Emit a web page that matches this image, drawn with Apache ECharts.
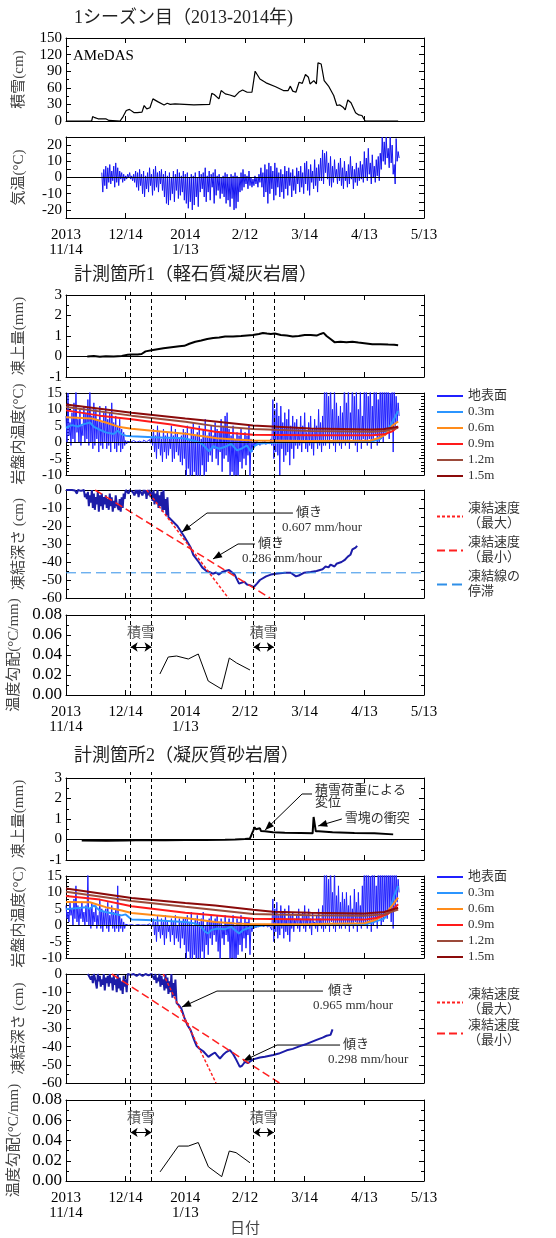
<!DOCTYPE html>
<html>
<head>
<meta charset="utf-8">
<script src="https://cdn.jsdelivr.net/npm/echarts@6.0.0/dist/echarts.min.js"></script>
<style>
html, body { margin: 0; padding: 0; background: #fff; }
#chart { width: 556px; height: 1238px; }
</style>
</head>
<body>
<div id="chart"></div>
<script>
const SERIF = "'Liberation Serif','Noto Sans CJK JP',serif";

// x軸は 2013/11/14 からの日数
const xTicks = ['2013\n11/14', '12/14', '2014\n1/13', '2/12', '3/14', '4/13', '5/13'];
const dashDays = [32.5, 43, 94.3, 104.5];          // 積雪期間の境界
const snowPeriods = [[32.5, 43], [94.3, 104.5]];

// 積雪 (AMeDAS)
const snowDay = [0, 12.9, 13.4, 14.5, 16.1, 18.5, 20.0, 21.6, 27.2, 28.7, 30.3, 31.9, 34.3, 35.8, 36.6, 38.2, 39.3, 40.6, 42.2, 43.7,
  46.1, 49.3, 50.9, 52.4, 54.8, 59.5, 64.3, 72.2, 73.3, 74.5, 76.9, 78.0, 80.1, 82.4, 84.8, 87.2, 88.8, 91.1, 93.5, 95.1,
  97.5, 100.6, 105.4, 109.3, 111.7, 112.8, 114.0, 115.6, 117.2, 118.8, 120.4, 121.9, 122.7, 124.6, 125.9, 126.7, 128.3, 129.8, 132.2, 134.6,
  136.2, 137.7, 139.3, 140.4, 141.7, 143.3, 145.6, 147.2, 148.8, 150.4, 167];
const snowCm = [0, 0, 8, 6, 4, 4, 4, 1, 0, 8, 19, 21, 15, 15, 18, 16, 28, 22, 24, 40,
  35, 29, 32, 30, 31, 30, 29, 30, 50, 48, 40, 55, 49, 47, 44, 53, 56, 52, 52, 90,
  76, 69, 62, 55, 55, 63, 54, 52, 70, 68, 84, 79, 67, 73, 67, 105, 103, 73, 62, 46,
  28, 29, 25, 20, 38, 33, 15, 11, 10, 0, 0];

// 気温 日最高/最低 (18日目から)
const airStart = 18;
const airHi = [3, 5, 7, 6, 8, 4, 7, 9, 6, 4,  3, 2, 1, 2, 3, 1, 2, 4, 3, 5,  2, 4, 1, 3, 6, 2, 5, 7, 3, 4,
  5, 2, 4, 1, 3, 0, 4, 2, 5, 3,  1, 4, 2, 3, 0, 2, 1, 3, 0, 4,  2, 3, 6, 1, 4, 2, 3, 5, 1, 2,
  0, 1, 3, 2, 0, 2, 1, 3, 1, 0,  3, 5, 2, 1, 4, 0, -1, 1, 0, 2,  6, 3, 8, 5, 9, 7, 4, 9, 6, 3,
  5, 2, 7, 4, 6, 3, 5, 1, 6, 4,  7, 3, 9, 10, 5, 8, 4, 11, 6, 8,  12, 17, 15, 16, 9, 13, 7, 11, 5, 9,
  12, 6, 10, 4, 8, 13, 7, 5, 9, 6,  10, 8, 16, 12, 18, 9, 14, 7, 11, 13,  15, 25, 22, 25, 18, 25, 20, 8, 24, 16];
const airLo = [-9, -5, -7, -3, -4, -2, -6, -3, -5, -1,  -3, -2, -1, 0, -1, -2, -3, -6, -8, -5,  -10, -12, -7, -9, -5, -11, -8, -6, -9, -4,
  -8, -12, -16, -17, -14, -10, -15, -8, -13, -11,  -9, -14, -16, -19, -15, -20, -17, -12, -18, -9,  -7, -12, -15, -9, -14, -6, -16, -11, -8, -13,
  -10, -12, -16, -14, -18, -13, -20, -19, -15, -9,  -8, -6, -4, -7, -5, -6, -5, -4, -6, -3,  -6, -12, -9, -16, -10, -7, -14, -11, -6, -12,
  -9, -13, -7, -11, -5, -12, -8, -10, -4, -9,  -6, -10, -4, -8, -11, -3, -7, -5, -9, -2,  -2, -4, 3, -1, -5, -6, -3, 0, -4, -2,
  -5, -7, -2, -6, -4, -1, -7, -3, -5, -2,  -1, -3, 0, -2, 2, -4, 0, -3, 1, -2,  5, 10, 8, 12, 6, 9, 2, -4, 10, 12];

// 計測箇所1
const heave1Day = [10.7, 14, 17, 20, 24, 28, 31, 33, 36, 38, 40, 43, 46, 49, 53, 57, 59.5, 62, 65, 68, 71, 74, 77, 80, 84, 88, 91, 94, 97, 99,
  101, 103, 105, 108, 111, 114, 117, 120, 123, 126, 128, 129.5, 131, 133, 135, 138, 141, 144, 147, 150, 154, 158, 162, 165, 167];
const heave1Mm = [0, 0.02, -0.01, 0.01, 0, 0.03, 0.08, 0.1, 0.1, 0.12, 0.25, 0.3, 0.35, 0.4, 0.45, 0.5, 0.52, 0.62, 0.72, 0.78, 0.85, 0.9, 0.93, 0.97, 0.98, 1.0, 1.03, 1.05, 1.1, 1.15,
  1.12, 1.1, 1.12, 1.05, 1.02, 0.98, 1.0, 1.05, 1.05, 1.02, 1.1, 1.15, 1.0, 0.85, 0.7, 0.72, 0.7, 0.72, 0.68, 0.65, 0.6, 0.6, 0.58, 0.57, 0.55];

const surf1Hi = [8, 15, 6, 9, 12, 16, 7, 10, 5, 11,  9, 13, 16, 8, 12, 10, 7, 11, 6, 9,  11, 7, 9, 12, 6, 8, 5, 7, 4, 3,
  0.5, 0.3, 0.8, 0.6, 0.5, 0.4, 0.5, 0.3, 0.4, 0.6, 0.5, 0.4, 0.8, 1.5,
  4, 2, 5, 3, 1, 4, 2, 3, 1, 5, 2, 4, 3, 1, 2, 4,  3, 5, 1, 4, 6, 2, 3, 5, 1, 4, 7, 2,  3, 5, 2, 6, 4, 3, 7, 5, 8, 9,
  4, 2, 5, 1, 3, 2, 4, 1, 3, 2, 5, 1,  0, 0.2, 0.3, 0, 0.1, 0.2, 0.3, 0, 0.4, 1,  13, 10, 12, 8, 11, 6, 9, 7, 10, 5, 8, 6,
  7, 4, 8, 5, 9, 3, 6, 8, 4, 7, 5, 10, 6, 8,  18, 20, 14, 19, 10, 17, 12, 8, 11, 9,  20, 12, 18, 9, 20, 14, 17, 10, 16, 8,
  18, 20, 14, 19, 11, 20, 17, 13, 20, 18, 16, 20, 19, 15, 20, 18, 14, 12];
const surf1Lo = [0, 2, -1, 1, 0, 3, 0, -1, 2, 0,  1, -1, 0, -2, -1, 1, -3, -1, -2, 0,  -2, -1, -3, 0, -2, -3, -1, -3, -2, -1,
  -0.5, -0.2, 0, 0.2, 0.1, 0, 0.1, 0, -0.1, 0, 0.1, 0, -0.3, -1,
  -3, -5, -2, -4, -6, -3, -5, -4, -2, -6, -5, -3, -4, -6, -7, -5,  -12, -8, -13, -10, -9, -14, -11, -12, -7, -13, -9, -6,  -4, -6, -2, -5, -7, -3, -9, -5, -4, -6,
  -11, -9, -12, -10, -13, -6, -8, -5, -7, -4, -11, -3,  -1.5, -1, -0.8, -1, -0.6, -0.5, -0.7, -0.4, -0.5, -1,  -5, -3, -4, -10, -2, -6, -4, -3, -7, -2, -5, -1,
  -2, -1, -3, 0, -2, -3, -1, -2, -4, 0, -2, -1, -3, -1,  -1, 0, -2, 1, -1, -3, 0, -1, -2, 0,  -1, 0, -2, 1, 0, -1, -3, 0, -2, 1,
  0, -1, 1, -2, 0, 2, -1, 0, 1, 0, 2, 3, 1, 4, -3, 5, 6, 8];

const t1Day03 = [0, 3, 6, 9, 12, 14, 17, 20, 24, 26, 28, 30, 33, 44, 59, 64, 68, 70, 72, 74, 77, 80, 83, 86, 88, 91, 93, 95, 97, 110, 138, 154, 158, 161, 164, 167];
const t1Val03 = [4.4, 5.2, 4.8, 5.5, 6.0, 4.7, 3.8, 3.0, 2.5, 3.5, 2.4, 2.0, 1.8, 1.5, 1.2, 0.5, -0.3, -1.5, -2.8, -1.2, -2.0, -1.4, -0.5, -2.5, -2.0, -1.0, -3.0, -1.0, -0.4, 0, 0, 0.3, 1.0, 3.0, 6.0, 9.5];
const t1Day06 = [0, 13, 20, 27, 33, 42, 60, 76, 85, 94, 123, 153, 157, 161, 164, 167];
const t1Val06 = [7.6, 7.2, 6.0, 4.6, 4.1, 3.6, 2.6, 1.2, 0.8, 0.5, 0.4, 0.5, 1.2, 2.5, 5.0, 6.3];
const t1Day09 = [0, 17, 33, 52, 75, 94, 123, 154, 160, 164, 167];
const t1Val09 = [9.7, 8.1, 7.0, 5.5, 3.2, 2.3, 2.1, 2.1, 2.4, 3.3, 4.8];
const t1Day12 = [0, 33, 60, 75, 94, 123, 154, 160, 167];
const t1Val12 = [10.7, 8.1, 6.2, 4.9, 4.0, 3.4, 3.2, 3.4, 4.4];
const t1Day15 = [0, 33, 60, 75, 94, 123, 154, 160, 167];
const t1Val15 = [11.5, 9.0, 7.2, 6.3, 5.1, 4.2, 3.9, 4.0, 4.7];

// 凍結深さ: 初期のばらつき (日ごとの上側/下側) と その後の推移
const frz1Hi = [0, 0, 0, 0, 0, 0, 0, 0, 0, 0,  -2, -1, -3, 0, -2, -4, -1, -3, -2, -4,  -3, -5, -2, -4, -6, -3, -7, -5, -4, -2,
  0, 0, 0, 0, 0, 0, 0, 0, 0, 0, 0, 0,  0, -1, 0, -2, 0, -3, -1, 0, -5, -4];
const frz1Lo = [-0.5, 0, -1, 0, -0.3, -2, 0, -0.5, -1, -4,  -5, -9, -7, -10, -11, -8, -12, -9, -11, -8,  -10, -11, -9, -12, -10, -8, -11, -12, -10, -5,
  -1, -2, -0.5, -1, -3, -2, -4, -1, -3, -2, -5, -3,  -4, -6, -8, -7, -10, -9, -12, -11, -14, -15];
const frz1Day = [52, 56, 59.5, 62.7, 64, 66.7, 68.5, 70.6, 72, 73.8, 75.5, 76.9, 78.5, 80, 82, 84.8, 87, 88, 89.6, 91, 92.7, 94.3, 96, 97.5, 100.6, 103, 105.4, 110, 113, 115.6,
  117, 119.6, 123, 126, 129, 130.5, 132, 133, 135, 136, 138.5, 140, 141.7, 143, 144, 145.6, 146.4];
const frz1Cm = [-15, -20, -26, -32, -36, -40, -43, -45, -45.5, -46.5, -45.8, -47, -45.5, -45, -44.5, -47, -52, -51.5, -51, -52.5, -53, -54, -52, -50, -48, -47, -46.5, -46, -46, -48,
  -47.5, -46, -45.5, -45, -44, -42.5, -43, -41.5, -42.5, -41, -40, -39, -37, -36, -33, -32, -31];
const rate1Max = [[40.6, 0], [81.6, -60]];
const rate1Min = [[14.6, 0], [102.6, -60]];
const stallCm = -46;

const grad1Day = [47.2, 51.4, 55.6, 61.5, 66.5, 71.5, 78.2, 82.1, 85.8, 92.5];
const grad1Val = [0.021, 0.038, 0.039, 0.036, 0.041, 0.014, 0.006, 0.037, 0.032, 0.025];

// 計測箇所2
const heave2Day = [7.9, 20, 30, 40, 50, 60, 70, 80, 85, 90, 92.5, 93.5, 94.2, 94.8, 95.5, 96.5, 97.5, 98, 100, 104, 110, 118, 124, 124.5, 125.2, 125.6, 127, 134, 145, 155, 164.5];
const heave2Mm = [-0.05, -0.06, -0.05, -0.03, -0.04, -0.03, -0.02, -0.01, 0, 0.02, 0.05, 0.1, 0.45, 0.6, 0.5, 0.45, 0.55, 0.42, 0.4, 0.35, 0.33, 0.32, 0.3, 1.1, 1.05, 0.4, 0.4, 0.35, 0.32, 0.3, 0.25];

const surf2Hi = [6, 4, 7, 5, 8, 12, 6, 5, 7, 4,  6, 16, 5, 7, 4, 6, 3, 8, 5, 4,  5, 7, 3, 6, 4, 5, 12, 3, 2, 1,
  0.3, 0.5, 0.4, 0.2, 0.3, 0.5, 0.2, 0.4, 0.3, 0.1, 0.3, 0.2, 0.4, 0.6,
  2, 1, 3, 0, 2, 1, 3, 1, 0, 2, 1, 3, 0, 2, 1, 2,  2, 3, 1, 4, 0, 2, 3, 1, 2, 4, 0, 1,  2, 3, 1, 2, 3, 1, 2, 0, 3, 1,
  2, 1, 3, 0, 2, 1, 3, 0, 2, 1, 2, 0,  0, 0.2, 0.1, 0, 0.2, 0.1, 0.3, 0, 0.2, 0.5,  8, 5, 7, 3, 6, 4, 5, 2, 6, 3, 4, 2,
  3, 5, 2, 4, 6, 3, 5, 2, 4, 1, 3, 5, 2, 6,  20, 17, 14, 20, 10, 18, 9, 12, 7, 10,  8, 10, 6, 9, 5, 11, 7, 10, 6, 12,
  20, 18, 20, 15, 20, 19, 12, 20, 18, 20, 16, 20, 19, 20, 18, 20, 17, 14];
const surf2Lo = [2, 1, 3, 0, 2, 1, 0, 2, 1, 0,  1, 0, -1, 0, 1, -1, 0, -1, -2, 0,  -1, -2, 0, -1, -2, -1, -2, -1, -2, -1,
  -0.3, 0, 0.1, 0, -0.1, 0, 0.1, 0, -0.2, 0, 0, -0.1, 0, -0.3,
  -3, -5, -2, -4, -3, -6, -4, -2, -5, -3, -6, -4, -5, -7, -4, -6,  -11, -8, -12, -13, -9, -14, -10, -12, -8, -11, -6, -9,  -4, -6, -3, -5, -8, -11, -4, -6, -3, -5,
  -12, -10, -11, -13, -9, -6, -8, -4, -7, -3, -9, -2,  -1, -0.8, -0.6, -0.5, -0.4, -0.5, -0.3, -0.6, -0.4, -1.5,  -5, -2, -4, -3, -1, -4, -2, -3, -5, -1, -2, 0,
  -1, -2, 0, -1, -2, 0, -1, -3, 0, -1, -2, 0, -1, -2,  -1, 0, -2, 1, -1, -2, 0, -1, -1, 0,  -1, 0, -2, 0, -1, 1, -2, 0, -1, 0,
  0, -1, 1, -2, 0, 1, -1, 2, 0, 1, 3, 2, 4, 1, -1, 5, 7, 10];

const t2Day03 = [0, 5, 10, 12, 14, 17, 20, 24, 28, 29, 30, 33, 44, 60, 65, 68, 70, 71.5, 73, 76, 80, 83, 85, 87, 89, 91, 94, 100, 150, 155, 160, 163, 165, 167];
const t2Val03 = [4.9, 5.2, 5.5, 5.0, 6.0, 4.5, 4.0, 3.5, 3.0, 2.5, 3.3, 1.7, 1.5, 1.0, 0.5, -0.5, -2.0, -2.5, -1.5, -1.0, -1.2, -0.5, -1.5, -2.5, -1.5, -1.0, -0.5, 0, 0.2, 1.0, 2.0, 5.0, 9.0, 12.0];
const t2Day06 = [0, 12, 20, 28, 33, 45, 60, 75, 85, 94, 123, 150, 155, 160, 164, 167];
const t2Val06 = [7.1, 7.0, 5.5, 4.5, 3.7, 3.0, 2.2, 1.0, 0.5, 0.3, 0.4, 0.6, 1.5, 3.0, 6.0, 8.4];
const t2Day09 = [0, 17, 33, 60, 94, 123, 150, 156, 162, 167];
const t2Val09 = [8.9, 7.8, 5.8, 3.8, 2.0, 1.7, 1.7, 2.2, 3.5, 6.4];
const t2Day12 = [0, 33, 60, 94, 123, 150, 160, 167];
const t2Val12 = [10.2, 7.4, 5.6, 3.4, 3.0, 2.9, 3.3, 4.8];
const t2Day15 = [0, 33, 60, 75, 94, 104, 123, 150, 160, 167];
const t2Val15 = [11.2, 8.3, 6.8, 6.0, 4.7, 4.1, 3.8, 3.6, 4.0, 5.3];

const frz2Start = 11;
const frz2Hi = [0, 0, -1, 0, -2, 0, -1, -3, 0, -2,  -1, 0, -2, -1, -3, 0, -2, -4, -1, -3,
  0, 0, 0, 0, 0, 0, 0, 0, 0, 0, 0, 0, 0,  -1, 0, -2, 0, -1, -3, 0, -2, -4, 0, -5, -3];
const frz2Lo = [-1, -3, -5, -2, -8, -4, -7, -6, -9, -5,  -7, -5, -9, -6, -10, -8, -9, -11, -7, -10,
  -1, -0.5, 0, -0.5, -1, 0, -0.5, -1, 0, -0.3, -0.8, 0, -1,  -3, -5, -4, -7, -6, -9, -8, -11, -10, -13, -12, -14];
const frz2Day = [55.6, 57, 58, 59.5, 61, 62.7, 64.3, 65.7, 67, 69, 71.6, 73, 74.9, 76, 77.4, 79, 80.5, 82.4, 84, 85.5, 87.4, 88.5, 90, 91.5, 94.1,
  97.5, 100, 104.2, 107, 111, 114, 117.6, 121, 126, 129, 131, 133, 133.6, 134];
const frz2Cm = [-16, -17.5, -19, -24, -28, -31, -36, -39.7, -41, -42.5, -45.6, -44.5, -43.2, -44.8, -46.5, -44.5, -43, -41.9, -44, -47, -51.1, -50.5, -48.3, -49, -47,
  -46, -45.5, -44.6, -43.8, -42, -41.2, -39.7, -38.5, -36.3, -35, -34, -33.5, -33, -30.5];
const rate2Max = [[48.9, 0], [75.4, -60]];
const rate2Min = [[23, 0], [107.3, -60]];

const grad2Day = [47.3, 56.5, 61.5, 66.5, 71.6, 78.3, 82.1, 85.5, 92.5];
const grad2Val = [0.009, 0.0345, 0.0345, 0.038, 0.014, 0.0043, 0.0296, 0.028, 0.018];

// ---------------------------------------------------------------
const xy = (days, vals) => days.map((d, i) => [d, vals[i]]);
function pairs(start, hi, lo) {   // 1日ごとに 上側 → 下側
  const out = [];
  hi.forEach((h, i) => { out.push([start + i, h]); out.push([start + i + 0.5, lo[i]]); });
  return out;
}

const panels = [
  { top: 38,   h: 83,  min: 0,   max: 150,  step: 30,   minor: 2, name: '積雪(cm)' },
  { top: 137,  h: 81,  min: -25, max: 25,   step: 5,    minor: 0, name: '気温(°C)', every: 10, xlab: true },
  { top: 295,  h: 82,  min: -1,  max: 3,    step: 1,    minor: 2, name: '凍上量(mm)' },
  { top: 393,  h: 82,  min: -10, max: 15,   step: 5,    minor: 5, name: '岩盤内温度(°C)' },
  { top: 490,  h: 108, min: -60, max: 0,    step: 10,   minor: 2, name: '凍結深さ (cm)' },
  { top: 615,  h: 80,  min: 0,   max: 0.08, step: 0.02, minor: 2, name: '温度勾配(°C/mm)', dec: 2, xlab: true },
  { top: 778,  h: 82,  min: -1,  max: 3,    step: 1,    minor: 2, name: '凍上量(mm)' },
  { top: 876,  h: 82,  min: -10, max: 15,   step: 5,    minor: 5, name: '岩盤内温度(°C)' },
  { top: 974,  h: 109, min: -60, max: 0,    step: 10,   minor: 2, name: '凍結深さ (cm)' },
  { top: 1100, h: 81,  min: 0,   max: 0.08, step: 0.02, minor: 2, name: '温度勾配(°C/mm)', dec: 2, xlab: true, xname: '日付' }
];

const grid = [], xAxis = [], yAxis = [];
const black = { color: '#000', width: 1 };
panels.forEach((p, g) => {
  grid.push({ left: 66, right: 132, top: p.top, height: p.h, outerBoundsMode: 'none' });
  xAxis.push({
    gridIndex: g, type: 'value', min: 0, max: 180, interval: 30, position: 'bottom',
    axisLine: { onZero: false, lineStyle: black },
    axisTick: { inside: true, length: 5, lineStyle: black },
    axisLabel: {
      show: !!p.xlab, margin: 10, fontSize: 15, lineHeight: 15, color: '#000', fontFamily: SERIF,
      showMinLabel: true, showMaxLabel: true, hideOverlap: false,
      formatter: v => xTicks[Math.round(v / 30)]
    },
    splitLine: { show: false },
    name: p.xname || '', nameLocation: 'middle', nameGap: 40,
    nameTextStyle: { fontSize: 15, color: '#444', fontFamily: SERIF }
  });
  xAxis.push({
    gridIndex: g, type: 'value', min: 0, max: 180, interval: 30, position: 'top',
    axisLine: { onZero: false, lineStyle: black },
    axisTick: { inside: true, length: 5, lineStyle: black },
    axisLabel: { show: false }, splitLine: { show: false }
  });
  const common = {
    gridIndex: g, type: 'value', min: p.min, max: p.max, interval: p.step,
    axisLine: { show: true, onZero: false, lineStyle: black },
    axisTick: { show: true, inside: true, length: 5, lineStyle: black },
    minorTick: { show: p.minor > 0, splitNumber: p.minor || 5, length: 3, lineStyle: black },
    splitLine: { show: false }, minorSplitLine: { show: false }
  };
  yAxis.push(Object.assign({}, common, {
    position: 'left',
    axisLabel: {
      margin: 4, color: '#000', fontFamily: SERIF, fontSize: p.dec ? 17 : 15,
      showMinLabel: true, showMaxLabel: true, hideOverlap: false,
      formatter: v => {
        if (p.dec) return v.toFixed(p.dec);
        if (p.every && Math.round(v) % p.every !== 0) return '';
        return String(Math.round(v * 100) / 100);
      }
    },
    name: p.name, nameLocation: 'middle', nameGap: 39, nameRotate: 90,
    nameTextStyle: { fontSize: 15, color: '#444', fontFamily: SERIF }
  }));
  yAxis.push(Object.assign({}, common, { position: 'right', axisLabel: { show: false } }));
});
// 破線 (積雪期間) 用の重ね合わせ領域
[[289, 406], [772, 409]].forEach(([top, h], k) => {
  grid.push({ left: 66, right: 132, top: top, height: h, outerBoundsMode: 'none' });
  xAxis.push({ gridIndex: 10 + k, type: 'value', min: 0, max: 180, show: false });
  yAxis.push({ gridIndex: 10 + k, type: 'value', min: 0, max: 1, show: false });
});

function line(g, name, data, color, width, extra) {
  return Object.assign({
    type: 'line', name: name, xAxisIndex: 2 * g, yAxisIndex: 2 * g, data: data,
    symbol: 'none', showSymbol: false, silent: true, animation: false,
    lineStyle: { color: color, width: width }, itemStyle: { color: color }
  }, extra || {});
}
const zeroLine = {
  silent: true, symbol: 'none', label: { show: false },
  lineStyle: { color: '#000', width: 1, type: 'solid' }, data: [{ yAxis: 0 }]
};
const snowMark = {
  silent: true, symbol: ['arrow', 'arrow'], symbolSize: 7,
  lineStyle: { color: '#000', width: 1, type: 'solid' },
  label: { show: true, position: 'insideMiddleTop', distance: 7, formatter: '積雪', color: '#555', fontSize: 14, fontFamily: SERIF },
  data: snowPeriods.map(p => [{ coord: [p[0], 0.048] }, { coord: [p[1], 0.048] }])
};

const C = {
  surf: '#2020ff', d03: '#2b95ff', d06: '#ff8c1a', d09: '#ff1a1a', d12: '#9c4a3a', d15: '#8b0a0a',
  frz: '#1c1ca8', rate: '#ff2020', stall: '#2f8fe8'
};

function siteSeries(o) {
  const s = [];
  s.push(line(o.g, '', xy(o.heaveDay, o.heaveMm), '#000', 2, { markLine: zeroLine }));
  s.push(line(o.g + 1, '地表面', pairs(0, o.surfHi, o.surfLo), C.surf, 1));
  s.push(line(o.g + 1, '0.3m', xy(o.t[0][0], o.t[0][1]), C.d03, 2));
  s.push(line(o.g + 1, '0.6m', xy(o.t[1][0], o.t[1][1]), C.d06, 2));
  s.push(line(o.g + 1, '0.9m', xy(o.t[2][0], o.t[2][1]), C.d09, 2));
  s.push(line(o.g + 1, '1.2m', xy(o.t[3][0], o.t[3][1]), C.d12, 2));
  s.push(line(o.g + 1, '1.5m', xy(o.t[4][0], o.t[4][1]), C.d15, 2, { markLine: zeroLine }));
  s.push(line(o.g + 2, '', pairs(o.frzStart, o.frzHi, o.frzLo).concat(xy(o.frzDay, o.frzCm)), C.frz, 2));
  s.push(line(o.g + 2, '凍結速度（最大）', o.rMax, C.rate, 1.5, { lineStyle: { color: C.rate, width: 1.5, type: [3, 2] } }));
  s.push(line(o.g + 2, '凍結速度（最小）', o.rMin, C.rate, 1.5, { lineStyle: { color: C.rate, width: 1.5, type: [8, 4] } }));
  if (o.stall) {
    s.push(line(o.g + 2, '凍結線の停滞', [[0, stallCm], [180, stallCm]], C.stall, 1, { lineStyle: { color: C.stall, width: 1, type: [10, 5] } }));
  }
  s.push(line(o.g + 3, '', xy(o.gradDay, o.gradVal), '#000', 1, { markLine: snowMark }));
  return s;
}

const series = [
  line(0, '', xy(snowDay, snowCm), '#000', 1.2),
  line(1, '', pairs(airStart, airHi, airLo), '#1515f0', 1, { markLine: zeroLine }),
  ...siteSeries({ g: 2, heaveDay: heave1Day, heaveMm: heave1Mm, surfHi: surf1Hi, surfLo: surf1Lo,
    t: [[t1Day03, t1Val03], [t1Day06, t1Val06], [t1Day09, t1Val09], [t1Day12, t1Val12], [t1Day15, t1Val15]],
    frzStart: 0, frzHi: frz1Hi, frzLo: frz1Lo, frzDay: frz1Day, frzCm: frz1Cm, rMax: rate1Max, rMin: rate1Min, stall: true,
    gradDay: grad1Day, gradVal: grad1Val }),
  ...siteSeries({ g: 6, heaveDay: heave2Day, heaveMm: heave2Mm, surfHi: surf2Hi, surfLo: surf2Lo,
    t: [[t2Day03, t2Val03], [t2Day06, t2Val06], [t2Day09, t2Val09], [t2Day12, t2Val12], [t2Day15, t2Val15]],
    frzStart: frz2Start, frzHi: frz2Hi, frzLo: frz2Lo, frzDay: frz2Day, frzCm: frz2Cm, rMax: rate2Max, rMin: rate2Min, stall: false,
    gradDay: grad2Day, gradVal: grad2Val })
];
[20, 21].forEach(i => {
  series.push({
    type: 'line', xAxisIndex: i, yAxisIndex: i, data: [[0, 0]], showSymbol: false, silent: true, animation: false,
    lineStyle: { opacity: 0 },
    markLine: { silent: true, symbol: 'none', label: { show: false },
      lineStyle: { color: '#000', width: 1, type: [4, 3] }, data: dashDays.map(d => ({ xAxis: d })) }
  });
});

const tempNames = ['地表面', '0.3m', '0.6m', '0.9m', '1.2m', '1.5m'];
const noSymbol = { opacity: 0, borderWidth: 0 };
const tempLegend = top => ({
  data: tempNames, orient: 'vertical', left: 436, top: top, padding: 0,
  itemWidth: 26, itemHeight: 14, itemGap: 2, selectedMode: false, itemStyle: noSymbol,
  textStyle: { fontSize: 13, lineHeight: 14, color: '#333', fontFamily: SERIF }
});
const rateLegend = (names, top, gap) => ({
  data: names, orient: 'vertical', left: 436, top: top, padding: 0,
  itemWidth: 26, itemHeight: 14, itemGap: gap, selectedMode: false, itemStyle: noSymbol,
  formatter: n => n.replace('（', '\n（').replace('線の', '線の\n'),
  textStyle: { fontSize: 13, lineHeight: 15, padding: [15, 0, 0, 0], color: '#333', fontFamily: SERIF }
});

const titleStyle = { fontSize: 18, fontWeight: 'normal', color: '#222', fontFamily: SERIF };
const option = {
  animation: false,
  backgroundColor: '#fff',
  title: [
    { text: '1シーズン目（2013-2014年)', left: 74, top: 9, padding: 0, textStyle: titleStyle },
    { text: 'AMeDAS', left: 73, top: 49, padding: 0, textStyle: { fontSize: 15, fontWeight: 'normal', color: '#000', fontFamily: SERIF } },
    { text: '計測箇所1（軽石質凝灰岩層）', left: 74, top: 266, padding: 0, textStyle: titleStyle },
    { text: '計測箇所2（凝灰質砂岩層）', left: 74, top: 747, padding: 0, textStyle: titleStyle }
  ],
  legend: [
    tempLegend(389),
    rateLegend(['凍結速度（最大）', '凍結速度（最小）', '凍結線の停滞'], 494, -11),
    tempLegend(870),
    rateLegend(['凍結速度（最大）', '凍結速度（最小）'], 980, -14)
  ],
  grid, xAxis, yAxis, series
};

const chart = echarts.init(document.getElementById('chart'), null, { renderer: 'canvas' });
chart.setOption(option);

// 注記 (引出線と矢印)
const notes = [
  { g: 4, path: [[114.1, -12.8], [70.9, -12.8], [58.3, -23.3]], texts: [['傾き', 3, 0], ['0.607 mm/hour', -11, 15]] },
  { g: 4, path: [[95, -30], [86.5, -30], [73.9, -38.3]], texts: [['傾き', 3, 0], ['0.286 mm/hour', -13, 15]] },
  { g: 6, path: [[123.7, 2.22], [118.7, 2.22], [100.1, 0.46]], texts: [['積雪荷重による', 3, -3], ['変位', 3, 9]] },
  { g: 6, path: [[138.7, 1.0], [126.8, 0.66]], texts: [['雪塊の衝突', 3, 0]] },
  { g: 8, path: [[129.2, -9.4], [75.9, -9.4], [58.3, -18.2]], texts: [['傾き', 5, 0], ['0.965 mm/hour', -10, 15]] },
  { g: 8, path: [[137.8, -39.1], [106.1, -39.1], [89, -47.9]], texts: [['傾き', 3, 0], ['0.298 mm/hour', -12, 15]] }
];
const graphic = [];
notes.forEach(n => {
  const pts = n.path.map(p => chart.convertToPixel({ xAxisIndex: 2 * n.g, yAxisIndex: 2 * n.g }, p));
  graphic.push({ type: 'polyline', silent: true, shape: { points: pts }, style: { stroke: '#000', lineWidth: 1, fill: null } });
  const tip = pts[pts.length - 1], prev = pts[pts.length - 2];
  const a = Math.atan2(tip[1] - prev[1], tip[0] - prev[0]);
  const L = 9, W = 3.5, cx = Math.cos(a), sy = Math.sin(a);
  const bx = tip[0] - L * cx, by = tip[1] - L * sy;
  graphic.push({ type: 'polygon', silent: true,
    shape: { points: [tip, [bx - W * sy, by + W * cx], [bx + W * sy, by - W * cx]] }, style: { fill: '#000' } });
  n.texts.forEach(([t, dx, dy]) => {
    graphic.push({ type: 'text', silent: true, x: pts[0][0] + dx, y: pts[0][1] + dy,
      style: { text: t, fontSize: 13, fontFamily: SERIF, fill: '#333', textAlign: 'left', textVerticalAlign: 'middle', align: 'left', verticalAlign: 'middle' } });
  });
});
chart.setOption({ graphic: graphic });
</script>
</body>
</html>
